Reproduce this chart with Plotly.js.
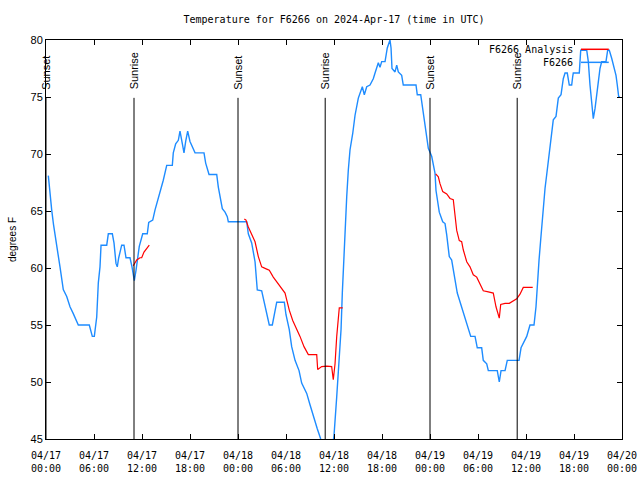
<!DOCTYPE html>
<html><head><meta charset="utf-8">
<script src="https://cdn.plot.ly/plotly-3.0.1.min.js"></script>
<style>html,body{margin:0;padding:0;background:#fff}</style>
</head><body><div id="chart" style="width:640px;height:480px"></div>
<script>
// hours since 2024-04-17 00:00 UTC
const obsHours = [0.29,0.44,0.71,0.94,1.13,1.44,1.75,1.96,2.16,2.59,3.0,3.41,4.04,5.41,5.79,6.04,6.34,6.54,6.75,6.88,7.59,7.79,8.29,8.5,8.75,8.91,9.09,9.46,9.75,10.0,10.5,10.75,10.91,11.04,11.25,11.66,12.09,12.66,12.84,13.34,13.63,13.91,14.25,14.66,15.09,15.79,15.91,16.21,16.54,16.75,17.04,17.25,17.46,17.71,18.0,18.63,19.75,19.96,20.38,21.34,21.54,21.75,22.04,22.38,22.66,22.79,25.09,25.29,25.71,26.13,26.41,26.96,27.29,27.59,27.91,28.29,28.54,28.84,29.79,30.0,30.41,30.71,31.13,31.63,31.96,32.59,33.0,33.41,33.91,34.34,34.75,35.25,35.63,36.0,36.34,36.63,36.88,37.04,37.16,37.38,37.59,37.79,38.0,38.34,38.63,39.04,39.54,39.79,40.09,40.5,40.91,41.13,41.54,41.75,41.96,42.38,42.66,43.0,43.13,43.25,43.63,43.84,44.04,44.46,44.66,46.25,46.41,46.84,47.04,47.29,47.59,47.79,48.21,48.41,48.63,48.75,48.91,49.16,49.59,49.88,50.09,50.41,50.71,50.91,51.13,51.41,51.75,52.09,52.38,52.66,53.09,53.63,53.91,54.46,54.66,55.09,55.29,56.41,56.66,56.88,57.38,57.66,59.13,59.38,59.75,60.09,60.5,61.0,61.25,61.41,61.63,61.84,62.09,62.38,62.59,62.79,63.21,63.41,63.75,64.04,64.38,64.66,64.88,65.16,65.41,65.71,65.84,65.91,66.66,66.84,67.59,67.79,68.0,68.21,68.41,68.63,68.91,69.25,69.46,70.0,70.21,70.41,70.71,71.0,71.25,71.41,71.59,71.75];
const obsTemps = [68.1,66.8,65.1,63.8,62.75,61.5,60.1,59.0,58.1,57.5,56.6,56.0,55.0,55.0,54.0,54.0,55.7,58.7,60.1,62.0,62.0,63.0,63.0,62.2,60.4,60.1,60.9,62.0,62.0,60.9,60.9,60.1,59.4,58.9,59.8,61.9,63.0,63.0,64.0,64.2,65.1,65.8,66.55,67.7,69.0,69.0,70.1,70.9,71.2,72.0,70.9,70.1,71.1,72.0,71.1,70.1,70.1,69.2,68.2,68.2,67.1,66.25,65.2,64.9,64.5,64.06,64.06,63.0,62.2,60.55,58.07,58.0,56.9,56.0,55.0,55.0,56.0,57.0,57.0,55.9,54.6,53.1,51.9,51.0,49.9,49.0,48.0,47.0,45.9,45.0,44.2,43.5,43.3,45.3,48.7,51.6,54.6,57.8,59.8,63.3,66.25,68.6,70.35,71.8,73.4,74.9,75.9,75.2,75.9,76.05,76.6,77.1,78.0,77.6,78.1,78.1,79.3,80.0,79.3,77.5,77.2,77.8,77.2,76.9,76.05,76.05,75.2,75.2,74.15,73.1,71.7,70.5,69.8,69.0,68.3,66.8,66.0,64.9,64.06,63.9,62.9,61.0,60.7,60.0,58.95,57.8,57.0,56.2,55.7,55.0,54.0,54.0,53.0,53.0,51.9,51.6,51.0,51.0,50.0,51.0,51.0,51.9,51.9,53.0,53.5,54.0,55.0,55.0,56.6,58.7,60.7,62.5,64.9,67.0,68.2,69.3,72.0,73.0,73.3,74.9,75.2,76.6,77.1,77.1,76.05,76.05,76.8,77.1,77.1,79.1,79.1,78.1,76.05,74.6,73.1,74.0,75.8,77.5,78.1,78.1,79.1,79.1,78.4,77.5,76.9,76.05,75.0,75.0];
const anaHours = [10.91,11.34,11.75,11.96,12.25,12.59,12.91,null,24.79,25.0,25.29,25.71,26.13,26.54,26.96,27.59,27.91,28.41,28.84,29.25,29.88,30.09,30.41,30.84,31.34,31.75,32.25,32.79,33.84,33.96,34.46,35.09,35.71,35.91,36.13,36.34,36.66,37.09,null,48.71,49.04,49.25,49.59,50.09,50.5,50.91,51.13,51.34,51.66,51.96,52.16,52.59,53.0,53.41,53.84,54.25,54.66,55.29,55.91,56.25,56.66,56.84,57.38,57.91,58.34,58.84,59.25,59.66,60.84];
const anaTemps = [60.2,60.7,60.9,60.9,61.4,61.7,62.0,null,64.3,64.2,63.6,63.0,62.3,61.0,60.1,59.9,59.8,59.2,58.8,58.4,57.8,57.2,56.3,55.4,54.7,54.0,53.1,52.4,52.4,51.1,51.35,51.4,51.35,50.2,51.6,54.0,56.5,56.5,null,68.25,68.0,67.4,66.7,66.5,66.1,66.0,64.5,63.3,62.4,62.3,61.6,60.55,60.1,59.4,59.2,58.66,58.0,57.9,57.8,56.6,55.6,56.8,56.9,56.9,57.1,57.3,57.7,58.3,58.3];
const sunHours = [0, 11.0, 24.0, 34.9, 48.0, 58.9];
const sunLabels = ['Sunset','Sunrise','Sunset','Sunrise','Sunset','Sunrise'];
const tickHours = [0,6,12,18,24,30,36,42,48,54,60,66,72];
const tickLabels = ['04/17<br>00:00','04/17<br>06:00','04/17<br>12:00','04/17<br>18:00','04/18<br>00:00','04/18<br>06:00','04/18<br>12:00','04/18<br>18:00','04/19<br>00:00','04/19<br>06:00','04/19<br>12:00','04/19<br>18:00','04/20<br>00:00'];
const seriesNames = ['F6266 Analysis','F6266'];
const seriesColors = ['#ff0000','#1e8cff'];

const mono = 'DejaVu Sans Mono, monospace';
const sans = 'Liberation Sans, Arial, sans-serif';

const traces = [
  {x: obsHours, y: obsTemps, mode:'lines', line:{color:seriesColors[1], width:1.4}, name:seriesNames[1], connectgaps:false},
  {x: anaHours, y: anaTemps, mode:'lines', line:{color:seriesColors[0], width:1.2}, name:seriesNames[0], connectgaps:false}
];

const shapes = [];
const annotations = [];
sunHours.forEach((h,i)=>{
  shapes.push({type:'line', xref:'x', yref:'paper', x0:h, x1:h, y0:0, y1:0.855, line:{color:'#000', width:1}});
  annotations.push({xref:'x', yref:'paper', x:h, y:0.87, text:sunLabels[i], showarrow:false, textangle:-90, xanchor:'center', yanchor:'bottom', font:{family:sans, size:11, color:'#000'}});
});
// legend (text to the left of the line samples)
const legY = [0.9767, 0.944];
seriesNames.forEach((n,i)=>{
  annotations.push({xref:'paper', yref:'paper', x:0.918, y:legY[i], text:n, showarrow:false, xanchor:'right', yanchor:'middle', font:{family:mono, size:10, color:'#000'}});
  shapes.push({type:'line', xref:'paper', yref:'paper', x0:0.9288, x1:0.977, y0:legY[i], y1:legY[i], line:{color:seriesColors[i], width:1.5}});
});

const layout = {
  width:640, height:480,
  margin:{l:46, r:18, t:40, b:41, pad:0},
  paper_bgcolor:'#fff', plot_bgcolor:'#fff',
  showlegend:false,
  title:{text:'Temperature for F6266 on 2024-Apr-17 (time in UTC)', x:0.5, xref:'paper', xanchor:'center', y:0.96, yref:'container', yanchor:'middle', font:{family:mono, size:10, color:'#000'}},
  xaxis:{type:'linear', range:[0,72], tickvals:tickHours, ticktext:tickLabels, ticks:'inside', ticklen:5, tickcolor:'#000', showline:true, linecolor:'#000', linewidth:1, mirror:'ticks', showgrid:false, zeroline:false, automargin:false, ticklabelstandoff:7, tickfont:{family:mono, size:10, color:'#000'}},
  yaxis:{range:[45,80], dtick:5, tick0:45, ticks:'inside', ticklen:5, tickcolor:'#000', showline:true, linecolor:'#000', linewidth:1, mirror:'ticks', showgrid:false, zeroline:false, automargin:false, tickfont:{family:sans, size:11, color:'#000'}, title:{text:'degrees F', standoff:12, font:{family:sans, size:10, color:'#000'}}},
  shapes:shapes,
  annotations:annotations
};
Plotly.newPlot('chart', traces, layout, {displayModeBar:false, staticPlot:true});
</script>
</body></html>
